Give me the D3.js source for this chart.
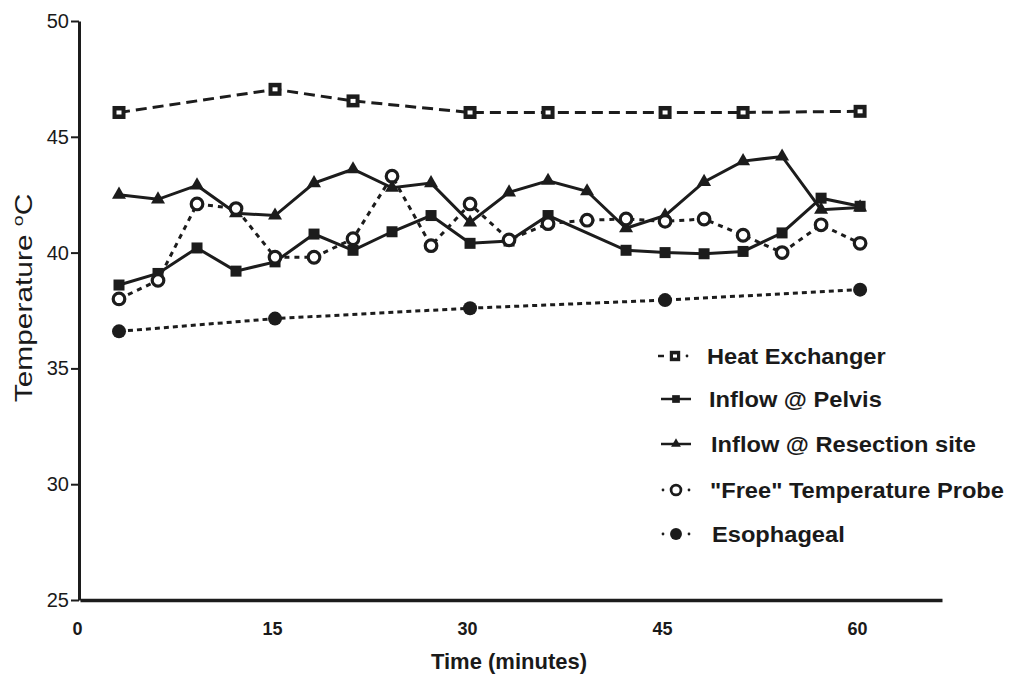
<!DOCTYPE html>
<html lang="en">
<head>
    <meta charset="UTF-8">
    <title>Temperature over time</title>
    <style>
        body { margin: 0; background: #fff; }
        svg { display: block; }
        text { fill: #1a1a1a; font-family: "Liberation Sans", Arial, sans-serif; }
    </style>
    <script src="https://d3js.org/d3.v7.min.js"></script>
</head>
<body>
    <svg width="1019" height="675"></svg>
    <script>
        const width = 1019;
        const height = 675;

        // data (minutes, degrees C)
        const heatTime = [3, 15, 21, 30, 36, 45, 51, 60];
        const heatTemp = [46.05, 47.05, 46.55, 46.05, 46.05, 46.05, 46.05, 46.1];

        const pelvisTime = [3, 6, 9, 12, 15, 18, 21, 24, 27, 30, 33, 36, 42, 45, 48, 51, 54, 57, 60];
        const pelvisTemp = [38.6, 39.1, 40.2, 39.2, 39.6, 40.8, 40.1, 40.9, 41.6, 40.4, 40.5, 41.6, 40.1, 40.0, 39.95, 40.05, 40.85, 42.35, 42.0];

        const resectTime = [3, 6, 9, 12, 15, 18, 21, 24, 27, 30, 33, 36, 39, 42, 45, 48, 51, 54, 57, 60];
        const resectTemp = [42.5, 42.3, 42.9, 41.7, 41.6, 43.0, 43.6, 42.8, 43.0, 41.3, 42.6, 43.1, 42.65, 41.05, 41.6, 43.05, 43.95, 44.15, 41.85, 41.95];

        const probeTime = [3, 6, 9, 12, 15, 18, 21, 24, 27, 30, 33, 36, 39, 42, 45, 48, 51, 54, 57, 60];
        const probeTemp = [38.0, 38.8, 42.1, 41.9, 39.8, 39.8, 40.6, 43.3, 40.3, 42.1, 40.55, 41.25, 41.4, 41.45, 41.35, 41.45, 40.75, 40.0, 41.2, 40.4];

        const esophTime = [3, 15, 30, 45, 60];
        const esophTemp = [36.6, 37.15, 37.6, 37.95, 38.4];

        const xTicks = [0, 15, 30, 45, 60];
        const yTicks = [25, 30, 35, 40, 45, 50];

        const ink = "#1c1c1c";

        const svg = d3.select("svg");

        const x = d3.scaleLinear().domain([0, 66.3]).range([80, 942]);
        const y = d3.scaleLinear().domain([25, 50]).range([600, 21]);

        // y axis
        const yAxis = svg.append("g")
            .attr("transform", "translate(79,0)")
            .attr("font-size", 20)
            .call(d3.axisLeft(y).tickValues(yTicks).tickSize(8).tickSizeOuter(0).tickPadding(2));
        yAxis.attr("font-size", 20).attr("font-family", null);
        yAxis.select(".domain").attr("stroke", ink).attr("stroke-width", 3);
        yAxis.selectAll(".tick line").attr("stroke", ink).attr("stroke-width", 2);
        yAxis.selectAll(".tick text")
            .style("font-size", "20px")
            .attr("fill", "#333");

        // x axis - no tick marks, only labels
        const xAxis = svg.append("g")
            .attr("transform", "translate(0,600)")
            .call(d3.axisBottom(x).tickValues(xTicks).tickSize(0).tickSizeOuter(0).tickPadding(22));
        xAxis.attr("font-size", 18).attr("font-family", null);
        xAxis.select(".domain").attr("stroke", ink).attr("stroke-width", 3.5);
        xAxis.selectAll(".tick text")
            .style("font-size", "18px")
            .attr("font-weight", "bold")
            .attr("fill", ink)
            .attr("dx", -3);

        svg.append("text")
            .attr("x", 509)
            .attr("y", 669)
            .attr("text-anchor", "middle")
            .attr("font-size", 22)
            .attr("font-weight", "bold")
            .text("Time (minutes)");

        const yLab = svg.append("text")
            .attr("transform", "translate(32,298) rotate(-90) scale(1.3,1)")
            .attr("text-anchor", "middle")
            .attr("font-size", 23);
        yLab.append("tspan").text("Temperature ");
        yLab.append("tspan").attr("font-size", 15).attr("dy", -9).text("o");
        yLab.append("tspan").attr("dy", 9).text("C");

        // series
        const series = [
            { name: "Heat Exchanger", t: heatTime, v: heatTemp, dash: "11,6", marker: "hsquare" },
            { name: "Inflow @ Pelvis", t: pelvisTime, v: pelvisTemp, dash: null, marker: "square" },
            { name: "Inflow @ Resection site", t: resectTime, v: resectTemp, dash: null, marker: "triangle" },
            { name: "\"Free\" Temperature Probe", t: probeTime, v: probeTemp, dash: "5,5", marker: "ocircle" },
            { name: "Esophageal", t: esophTime, v: esophTemp, dash: "5,4", marker: "dot" }
        ];

        const line = d3.line().x(d => x(d[0])).y(d => y(d[1]));

        function drawMarker(g, kind, cx, cy, s) {
            s = s || 1;
            if (kind === "hsquare") {
                g.append("rect").attr("x", cx - 6.5 * s).attr("y", cy - 6.5 * s)
                    .attr("width", 13 * s).attr("height", 13 * s).attr("fill", ink);
                g.append("rect").attr("x", cx - 2.5 * s).attr("y", cy - 2 * s)
                    .attr("width", 5 * s).attr("height", 4 * s).attr("fill", "#fff");
            } else if (kind === "square") {
                g.append("rect").attr("x", cx - 5.5 * s).attr("y", cy - 5.5 * s)
                    .attr("width", 11 * s).attr("height", 11 * s).attr("fill", ink);
            } else if (kind === "triangle") {
                g.append("path")
                    .attr("d", d3.symbol(d3.symbolTriangle, 85 * s * s)())
                    .attr("transform", `translate(${cx},${cy})`)
                    .attr("fill", ink);
            } else if (kind === "ocircle") {
                g.append("circle").attr("cx", cx).attr("cy", cy).attr("r", 5.8 * s)
                    .attr("fill", "#fff").attr("stroke", ink).attr("stroke-width", 3.2 * s);
            } else if (kind === "dot") {
                g.append("circle").attr("cx", cx).attr("cy", cy).attr("r", 7 * s)
                    .attr("fill", ink);
            }
        }

        series.forEach(s => {
            const pts = s.t.map((t, i) => [t, s.v[i]]);
            svg.append("path")
                .datum(pts)
                .attr("fill", "none")
                .attr("stroke", ink)
                .attr("stroke-width", 3)
                .attr("stroke-dasharray", s.dash)
                .attr("d", line);
            const g = svg.append("g");
            pts.forEach(p => drawMarker(g, s.marker, x(p[0]), y(p[1])));
        });

        // legend
        const legendRows = [356, 399, 444, 490, 534];
        const legendX = [707, 709, 711, 710, 712];
        const legend = svg.append("g");
        series.forEach((s, i) => {
            const ly = legendRows[i];
            const g = legend.append("g");
            if (i === 0) {
                g.append("line").attr("x1", 658).attr("x2", 664).attr("y1", ly).attr("y2", ly)
                    .attr("stroke", ink).attr("stroke-width", 2.5);
                g.append("circle").attr("cx", 687).attr("cy", ly).attr("r", 1.4).attr("fill", ink);
                drawMarker(g, s.marker, 675, ly, 0.8);
            } else if (i === 1 || i === 2) {
                g.append("line").attr("x1", 661).attr("x2", 691).attr("y1", ly).attr("y2", ly)
                    .attr("stroke", ink).attr("stroke-width", 2.5);
                drawMarker(g, s.marker, 676, ly, 0.7);
            } else {
                g.append("circle").attr("cx", 663).attr("cy", ly).attr("r", 1.4).attr("fill", ink);
                g.append("circle").attr("cx", 689).attr("cy", ly).attr("r", 1.4).attr("fill", ink);
                drawMarker(g, s.marker, 676, ly, 0.85);
            }
            g.append("text")
                .attr("transform", `translate(${legendX[i]},${ly + 7.5}) scale(1.1,1)`)
                .attr("font-size", 21.5)
                .attr("font-weight", "bold")
                .attr("fill", "#222")
                .text(s.name);
        });
    </script>
</body>
</html>
